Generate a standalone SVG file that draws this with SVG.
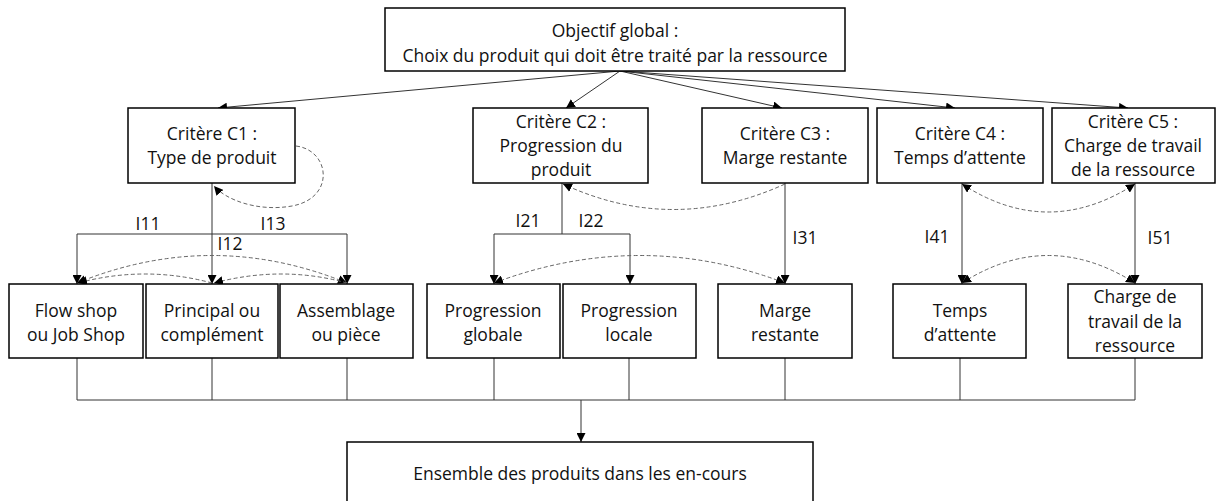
<svg xmlns="http://www.w3.org/2000/svg" width="1216" height="501" viewBox="0 0 1216 501">
<style>
.box{fill:#fff;stroke:#000;stroke-width:1.5}
.t{font-family:"Open Sans","Liberation Sans",sans-serif;font-size:17.5px;fill:#111;text-anchor:middle}
.c{fill:none;stroke:#333;stroke-width:1}
.d{fill:none;stroke:#666;stroke-width:1;stroke-dasharray:4,2.5}
</style>
<defs>
<marker id="a" viewBox="0 0 10 10" refX="10" refY="5" markerUnits="userSpaceOnUse" markerWidth="9" markerHeight="9" orient="auto-start-reverse">
<path d="M0,0 L10,5 L0,10 z" fill="#000"/>
</marker>
</defs>
<rect width="1216" height="501" fill="#fff"/>
<g id="connectors">
<path class="c" d="M620,71 L218,108" marker-end="url(#a)"/>
<path class="c" d="M620,71 L566,108" marker-end="url(#a)"/>
<path class="c" d="M620,71 L782,108" marker-end="url(#a)"/>
<path class="c" d="M620,71 L955,108" marker-end="url(#a)"/>
<path class="c" d="M620,71 L1128,108" marker-end="url(#a)"/>
<path class="c" d="M212,183 V284" marker-end="url(#a)"/>
<path class="c" d="M77,234 H347"/>
<path class="c" d="M77,234 V284" marker-end="url(#a)"/>
<path class="c" d="M347,234 V284" marker-end="url(#a)"/>
<path class="c" d="M562,183 V234"/>
<path class="c" d="M494,234 H630"/>
<path class="c" d="M494,234 V284" marker-end="url(#a)"/>
<path class="c" d="M630,234 V284" marker-end="url(#a)"/>
<path class="c" d="M785,183 V284" marker-end="url(#a)"/>
<path class="c" d="M962,183 V284" marker-end="url(#a)"/>
<path class="c" d="M1135,183 V284" marker-end="url(#a)"/>
<path class="c" d="M77,358 V400 M212,358 V400 M347,358 V400 M494,358 V400 M629,358 V400 M785,358 V400 M960,358 V400 M1135,358 V400 M77,400 H1135"/>
<path class="c" d="M581,400 V442" stroke-width="1.5" marker-end="url(#a)"/>
<path class="d" d="M296,146 C330,150 336,198 292,206 C258,212 226,200 214,186" marker-end="url(#a)"/>
<path class="d" d="M785,184 Q673,235 563,184" marker-end="url(#a)"/>
<path class="d" d="M962,184 Q1048,240 1135,184" marker-start="url(#a)" marker-end="url(#a)"/>
<path class="d" d="M77,283 Q212,228 347,283" marker-start="url(#a)" marker-end="url(#a)"/>
<path class="d" d="M212,283 Q145,265 78,283" marker-end="url(#a)"/>
<path class="d" d="M347,283 Q282,265 214,283" marker-end="url(#a)"/>
<path class="d" d="M494,283 Q640,228 785,283" marker-start="url(#a)" marker-end="url(#a)"/>
<path class="d" d="M962,283 Q1048,228 1135,283" marker-start="url(#a)" marker-end="url(#a)"/>
<text class="t" x="148" y="230">I11</text>
<text class="t" x="230" y="250">I12</text>
<text class="t" x="273" y="230">I13</text>
<text class="t" x="528" y="227">I21</text>
<text class="t" x="591" y="227">I22</text>
<text class="t" x="805" y="244">I31</text>
<text class="t" x="937" y="243">I41</text>
<text class="t" x="1160" y="244">I51</text>
</g>
<g id="objectif">
<rect class="box" x="385" y="8" width="460" height="63"/>
<text class="t" x="615" y="37">Objectif global :</text>
<text class="t" x="615" y="62">Choix du produit qui doit être traité par la ressource</text>
</g>
<g id="c1">
<rect class="box" x="128" y="108" width="167" height="75"/>
<text class="t" x="212" y="140">Critère C1 :</text>
<text class="t" x="212" y="164">Type de produit</text>
</g>
<g id="c2">
<rect class="box" x="473" y="108" width="175" height="75"/>
<text class="t" x="561" y="128">Critère C2 :</text>
<text class="t" x="561" y="152">Progression du</text>
<text class="t" x="561" y="176">produit</text>
</g>
<g id="c3">
<rect class="box" x="702" y="108" width="166" height="75"/>
<text class="t" x="785" y="140">Critère C3 :</text>
<text class="t" x="785" y="164">Marge restante</text>
</g>
<g id="c4">
<rect class="box" x="877" y="108" width="166" height="75"/>
<text class="t" x="960" y="140">Critère C4 :</text>
<text class="t" x="960" y="164">Temps d’attente</text>
</g>
<g id="c5">
<rect class="box" x="1052" y="108" width="163" height="75"/>
<text class="t" x="1133" y="128">Critère C5 :</text>
<text class="t" x="1133" y="152">Charge de travail</text>
<text class="t" x="1133" y="176">de la ressource</text>
</g>
<g id="i11">
<rect class="box" x="9" y="284" width="134" height="74"/>
<text class="t" x="76" y="317">Flow shop</text>
<text class="t" x="76" y="341">ou Job Shop</text>
</g>
<g id="i12">
<rect class="box" x="146" y="284" width="132" height="74"/>
<text class="t" x="212" y="317">Principal ou</text>
<text class="t" x="212" y="341">complément</text>
</g>
<g id="i13">
<rect class="box" x="280" y="284" width="133" height="74"/>
<text class="t" x="346" y="317">Assemblage</text>
<text class="t" x="346" y="341">ou pièce</text>
</g>
<g id="i21">
<rect class="box" x="427" y="284" width="133" height="74"/>
<text class="t" x="493" y="317">Progression</text>
<text class="t" x="493" y="341">globale</text>
</g>
<g id="i22">
<rect class="box" x="563" y="284" width="133" height="74"/>
<text class="t" x="629" y="317">Progression</text>
<text class="t" x="629" y="341">locale</text>
</g>
<g id="i31">
<rect class="box" x="718" y="284" width="134" height="74"/>
<text class="t" x="785" y="317">Marge</text>
<text class="t" x="785" y="341">restante</text>
</g>
<g id="i41">
<rect class="box" x="893" y="284" width="133" height="74"/>
<text class="t" x="960" y="317">Temps</text>
<text class="t" x="960" y="341">d’attente</text>
</g>
<g id="i51">
<rect class="box" x="1068" y="284" width="134" height="74"/>
<text class="t" x="1135" y="303">Charge de</text>
<text class="t" x="1135" y="328">travail de la</text>
<text class="t" x="1135" y="352">ressource</text>
</g>
<g id="ensemble">
<rect class="box" x="347" y="442" width="466" height="70"/>
<text class="t" x="580" y="480">Ensemble des produits dans les en-cours</text>
</g>
</svg>
